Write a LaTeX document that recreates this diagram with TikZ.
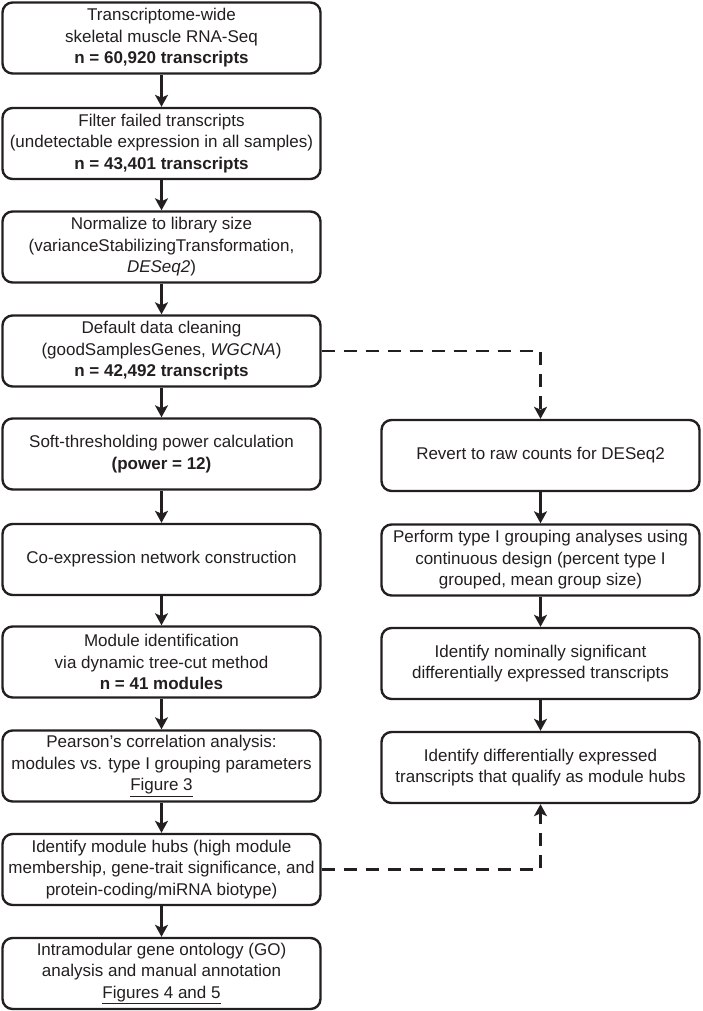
\documentclass[tikz,border=0pt]{standalone}
\usepackage{fontspec}
\setmainfont{Liberation Sans}
\usetikzlibrary{arrows.meta}
\definecolor{ink}{HTML}{231F20}
\begin{document}
\begin{tikzpicture}[x=1pt,y=-1pt,
 stepbox/.style={draw=ink, line width=2.4pt, rounded corners=10pt, minimum width=318pt, minimum height=71pt, align=center, inner sep=0pt, text=ink, font=\fontsize{17}{21.5}\selectfont, fill=white},
 arr/.style={draw=ink, line width=2.4pt, -{Stealth[length=12pt,width=13pt,inset=3pt]}},
 darr/.style={arr, dash pattern=on 13pt off 9pt}]
\useasboundingbox (0,0) rectangle (702,1011);
\node[stepbox] (b1) at (161.5,38) {Transcriptome-wide\\skeletal muscle RNA-Seq\\\textbf{n = 60,920 transcripts}};
\node[stepbox] (b2) at (161.5,143.5) {Filter failed transcripts\\(undetectable expression in all samples)\\\textbf{n = 43,401 transcripts}};
\node[stepbox] (b3) at (161.5,247) {Normalize to library size\\(varianceStabilizingTransformation,\\\textit{DESeq2})};
\node[stepbox] (b4) at (161.5,351) {Default data cleaning\\(goodSamplesGenes, \textit{WGCNA})\\\textbf{n = 42,492 transcripts}};
\node[stepbox] (b5) at (161.5,454) {Soft-thresholding power calculation\\\textbf{(power = 12)}};
\node[stepbox] (b6) at (161.5,559.5) {Co-expression network construction};
\node[stepbox] (b7) at (161.5,662) {Module identification\\via dynamic tree-cut method\\\textbf{n = 41 modules}};
\node[stepbox] (b8) at (161.5,766) {Pearson’s correlation analysis:\\modules vs. type I grouping parameters\\\underline{Figure 3}};
\node[stepbox] (b9) at (161.5,869.5) {Identify module hubs (high module\\membership, gene-trait significance, and\\protein-coding/miRNA biotype)};
\node[stepbox] (b10) at (161.5,973.5) {Intramodular gene ontology (GO)\\analysis and manual annotation\\\underline{Figures 4 and 5}};
\node[stepbox] (r1) at (540.5,455.5) {Revert to raw counts for DESeq2};
\node[stepbox] (r2) at (540.5,560) {Perform type I grouping analyses using\\continuous design (percent type I\\grouped, mean group size)};
\node[stepbox] (r3) at (540.5,663.5) {Identify nominally significant\\differentially expressed transcripts};
\node[stepbox] (r4) at (540.5,767.5) {Identify differentially expressed\\transcripts that qualify as module hubs};
\foreach \a/\b in {b1/b2,b2/b3,b3/b4,b4/b5,b5/b6,b6/b7,b7/b8,b8/b9,b9/b10,r1/r2,r2/r3,r3/r4}
  \draw[arr] (\a.south) -- (\b.north);
\draw[darr] (b4.east) -| (r1.north);
\draw[darr] (b9.east) -| (r4.south);
\end{tikzpicture}
\end{document}
